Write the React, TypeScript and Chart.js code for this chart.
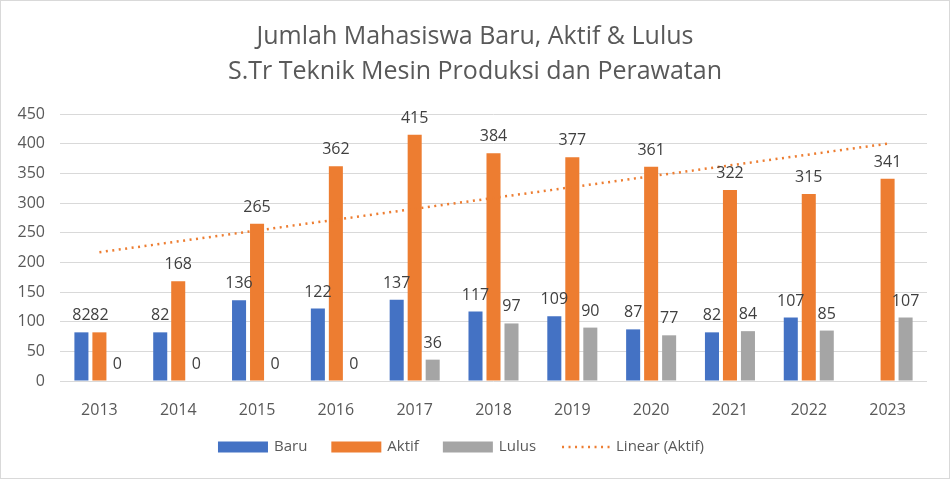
import React, { useEffect, useRef } from "react";
import { Chart, registerables, Plugin } from "chart.js";

Chart.register(...registerables);

const years = ["2013", "2014", "2015", "2016", "2017", "2018", "2019", "2020", "2021", "2022", "2023"];
const baru = [82, 82, 136, 122, 137, 117, 109, 87, 82, 107, null];
const aktif = [82, 168, 265, 362, 415, 384, 377, 361, 322, 315, 341];
const lulus = [0, 0, 0, 0, 36, 97, 90, 77, 84, 85, 107];
// trend line: start (2013) and end (2023)
const trendAktif = [217, null, null, null, null, null, null, null, null, null, 400];

const titleLines = ["Jumlah Mahasiswa Baru, Aktif & Lulus", "S.Tr Teknik Mesin Produksi dan Perawatan"];
const FONT = "'Open Sans', sans-serif";
const TEXT = "#595959";

const BLUE = "#4472C4";
const ORANGE = "#ED7D31";
const GRAY = "#A5A5A5";

const titlePlugin: Plugin = {
  id: "titleLines",
  afterDraw(chart) {
    const ctx = chart.ctx;
    ctx.save();
    ctx.fillStyle = TEXT;
    ctx.font = `25px ${FONT}`;
    ctx.textAlign = "center";
    ctx.textBaseline = "middle";
    ctx.fillText(titleLines[0], chart.width / 2, 36);
    ctx.fillText(titleLines[1], chart.width / 2, 71);
    ctx.restore();
  },
};

const labelPlugin: Plugin = {
  id: "barLabels",
  afterDatasetsDraw(chart) {
    const ctx = chart.ctx;
    ctx.save();
    ctx.fillStyle = "#404040";
    ctx.font = `16px ${FONT}`;
    ctx.textAlign = "center";
    ctx.textBaseline = "alphabetic";
    chart.data.datasets.forEach((ds, i) => {
      if (ds.type === "line") return;
      const meta = chart.getDatasetMeta(i);
      meta.data.forEach((el: any, j) => {
        const v = ds.data[j];
        if (v === null || v === undefined) return;
        ctx.fillText(String(v), el.x, el.y - 12);
      });
    });
    ctx.restore();
  },
};

const legendItems = [
  { label: "Baru", color: BLUE, dotted: false },
  { label: "Aktif", color: ORANGE, dotted: false },
  { label: "Lulus", color: GRAY, dotted: false },
  { label: "Linear (Aktif)", color: ORANGE, dotted: true },
];

const legendPlugin: Plugin = {
  id: "bottomLegend",
  afterDraw(chart) {
    const ctx = chart.ctx;
    ctx.save();
    ctx.font = `15px ${FONT}`;
    const boxW = 50;
    const gap = 6;
    const spacing = 24;
    const widths = legendItems.map((it) => boxW + gap + ctx.measureText(it.label).width);
    const total = widths.reduce((a, b) => a + b, 0) + spacing * (legendItems.length - 1);
    let x = (chart.width - total) / 2 - 14;
    const y = 446;
    legendItems.forEach((it, i) => {
      if (it.dotted) {
        ctx.strokeStyle = it.color;
        ctx.lineWidth = 2.5;
        ctx.setLineDash([2, 4.5]);
        ctx.beginPath();
        ctx.moveTo(x + 2, y);
        ctx.lineTo(x + boxW, y);
        ctx.stroke();
        ctx.setLineDash([]);
      } else {
        ctx.fillStyle = it.color;
        ctx.fillRect(x, y - 5.5, boxW, 11);
      }
      ctx.fillStyle = TEXT;
      ctx.textAlign = "left";
      ctx.textBaseline = "middle";
      ctx.fillText(it.label, x + boxW + gap, y);
      x += widths[i] + spacing;
    });
    ctx.restore();
  },
};

const App: React.FC = () => {
  const canvasRef = useRef<HTMLCanvasElement | null>(null);
  const chartRef = useRef<Chart | null>(null);

  useEffect(() => {
    document.body.style.margin = "0";
    if (chartRef.current) {
      chartRef.current.destroy();
    }
    if (canvasRef.current) {
      chartRef.current = new Chart(canvasRef.current, {
        type: "bar",
        data: {
          labels: years,
          datasets: [
            {
              type: "line",
              label: "Linear (Aktif)",
              data: trendAktif,
              borderColor: ORANGE,
              borderWidth: 2.5,
              borderDash: [2, 4.5],
              pointRadius: 0,
              spanGaps: true,
              fill: false,
              order: 0,
            } as any,
            {
              label: "Baru",
              data: baru,
              backgroundColor: BLUE,
              categoryPercentage: 0.685,
              barPercentage: 0.78,
              order: 1,
            },
            {
              label: "Aktif",
              data: aktif,
              backgroundColor: ORANGE,
              categoryPercentage: 0.685,
              barPercentage: 0.78,
              order: 1,
            },
            {
              label: "Lulus",
              data: lulus,
              backgroundColor: GRAY,
              categoryPercentage: 0.685,
              barPercentage: 0.78,
              order: 1,
            },
          ],
        },
        options: {
          responsive: true,
          maintainAspectRatio: false,
          animation: false,
          layout: { padding: { top: 113, left: 0, right: 22, bottom: 0 } },
          plugins: {
            legend: { display: false },
            title: { display: false },
            tooltip: { enabled: false },
          },
          scales: {
            x: {
              grid: { display: false },
              border: { display: false },
              ticks: { color: TEXT, font: { family: FONT, size: 16 }, padding: 12 },
              afterFit: (s: any) => {
                s.height = 97;
              },
            },
            y: {
              min: 0,
              max: 450,
              grid: { color: "#D9D9D9", lineWidth: 1, drawTicks: false },
              border: { display: false },
              ticks: { stepSize: 50, color: TEXT, font: { family: FONT, size: 16 }, padding: 15 },
              afterFit: (s: any) => {
                s.width = 59;
              },
            },
          },
        },
        plugins: [titlePlugin, labelPlugin, legendPlugin],
      });
    }
    return () => {
      if (chartRef.current) {
        chartRef.current.destroy();
        chartRef.current = null;
      }
    };
  }, []);

  return (
    <div
      style={{
        width: 950,
        height: 479,
        boxSizing: "border-box",
        border: "1px solid #D9D9D9",
        background: "#fff",
        position: "relative",
      }}
    >
      <canvas ref={canvasRef}></canvas>
    </div>
  );
};

export default App;
